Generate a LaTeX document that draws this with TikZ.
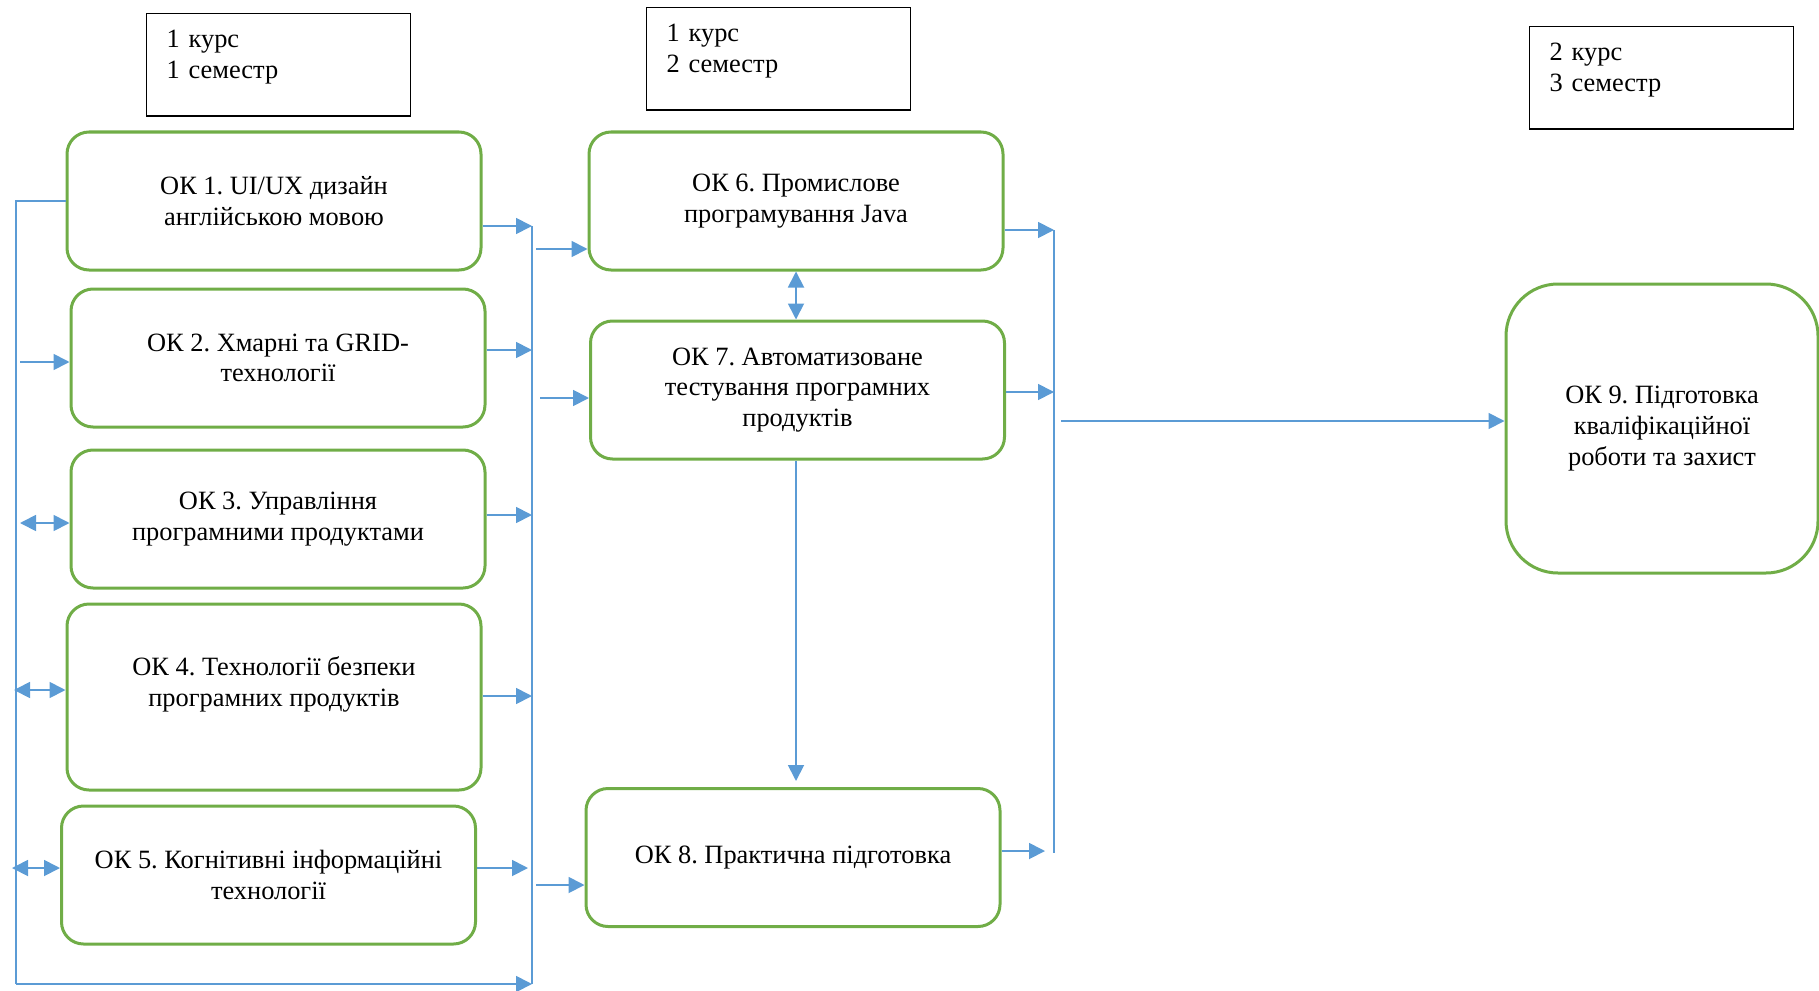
\documentclass[tikz,border=0pt]{standalone}
\usepackage{fontspec}
\setmainfont{Liberation Serif}
\usetikzlibrary{arrows.meta,positioning}
\frenchspacing

\definecolor{boxgreen}{HTML}{70AD47}
\definecolor{lineblue}{HTML}{5B9BD5}

\tikzset{
  course/.style={draw=boxgreen, line width=1.5pt, rounded corners=11pt, align=center,
    minimum width=207pt, minimum height=69pt, font=\fontsize{13.2}{15.3}\selectfont},
  semester/.style={draw, line width=0.6pt, anchor=north west, align=left, text width=112pt,
    inner xsep=10pt, inner ysep=8pt, text depth=26.5pt, font=\fontsize{13.2}{15.5}\selectfont},
  plain/.style={draw=lineblue, line width=0.9pt},
  link/.style={plain, -{Triangle[length=8pt,width=8pt]}},
  both/.style={plain, {Triangle[length=8pt,width=8pt]}-{Triangle[length=8pt,width=8pt]}}
}

\begin{document}
\begin{tikzpicture}[x=0.5pt, y=-0.5pt]

\useasboundingbox (0,0) rectangle (1819,990);

% semesters
\node[semester] (sem1) at (146,13) {1 курс\\1 семестр};
\node[semester] (sem2) at (646,7) {1 курс\\2 семестр};
\node[semester] (sem3) at (1529,26) {2 курс\\3 семестр};

% first column
\node[course] (ok1) at (274,201) {ОК 1. UI/UX дизайн\\англійською мовою};
\node[course] (ok2) at (278,358) {ОК 2. Хмарні та GRID-\\технології};
\node[course] (ok3) at (278,519) {ОК 3. Управління\\програмними продуктами};
\node[course, minimum height=93pt] (ok4) at (274,697) {ОК 4. Технології безпеки\\програмних продуктів\\\mbox{}};
\node[course] (ok5) at (268.5,875) {ОК 5. Когнітивні інформаційні\\технології};

% second column
\node[course] (ok6) at (796,201) {ОК 6. Промислове\\програмування Java};
\node[course] (ok7) at (797.5,390) {ОК 7. Автоматизоване\\тестування програмних\\продуктів};
\node[course] (ok8) at (793,857.5) {ОК 8. Практична підготовка};

% third column
\node[course, minimum width=156pt, minimum height=144.5pt, rounded corners=26pt] (ok9) at (1662,428.5)
  {ОК 9. Підготовка\\кваліфікаційної\\роботи та захист};

% left bus
\coordinate (lbot) at (16,984);
\coordinate (rbot) at (532,984);
\draw[plain] (ok1.west) -| (lbot);
\draw[link] (lbot) -- (rbot);

\coordinate (l2) at (20,362);
\coordinate (l3) at (20,523);
\coordinate (l4) at (14,690);
\coordinate (l5) at (12,868);
\draw[link] (l2) -- (ok2.west |- l2);
\draw[both] (l3) -- (ok3.west |- l3);
\draw[both] (l4) -- (ok4.west |- l4);
\draw[both] (l5) -- (ok5.west |- l5);

% first right bus
\coordinate (ra1) at (532,226);
\coordinate (ra2) at (532,350);
\coordinate (ra3) at (532,515);
\coordinate (ra4) at (532,696);
\coordinate (ra5) at (528,868);
\draw[plain] (ra1) -- (rbot);
\draw[link] (ok1.east |- ra1) -- (ra1);
\draw[link] (ok2.east |- ra2) -- (ra2);
\draw[link] (ok3.east |- ra3) -- (ra3);
\draw[link] (ok4.east |- ra4) -- (ra4);
\draw[link] (ok5.east |- ra5) -- (ra5);

\coordinate (m6) at (536,249);
\coordinate (m7) at (540,398);
\coordinate (m8) at (536,885);
\draw[link] (m6) -- (ok6.west |- m6);
\draw[link] (m7) -- (ok7.west |- m7);
\draw[link] (m8) -- (ok8.west |- m8);

% middle column
\draw[both] (ok6.south) -- (ok6.south |- ok7.north);
\coordinate (n8) at (796,781);
\draw[link] (ok7.south -| n8) -- (n8);

% second right bus
\coordinate (rb6) at (1054,230);
\coordinate (rb7) at (1054,392);
\coordinate (rb8) at (1045,851);
\coordinate (rbbot) at (1054,853);
\draw[plain] (rb6) -- (rbbot);
\draw[link] (ok6.east |- rb6) -- (rb6);
\draw[link] (ok7.east |- rb7) -- (rb7);
\draw[link] (ok8.east |- rb8) -- (rb8);

\coordinate (rb9) at (1061,421);
\draw[link] (rb9) -- (ok9.west |- rb9);

\end{tikzpicture}
\end{document}
